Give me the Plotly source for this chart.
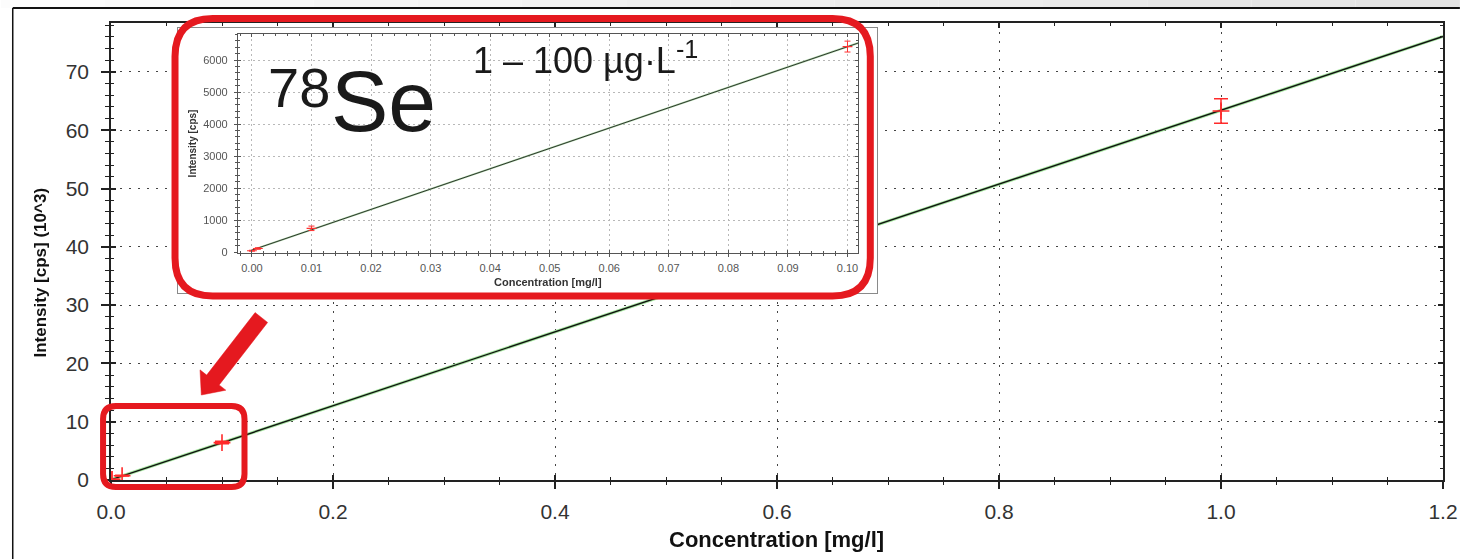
import math
import plotly.graph_objects as go

W, H = 1470, 559
PL, PR, PT, PB = 111, 1453, 23, 480          # main plot area (px)
IL, IR, IT, IB = 239, 864, 34, 253           # inset plot area (px)
FL, FR, FT, FB = 179, 883, 28, 293           # inset frame (px)

# ---------------- data ----------------
conc = [0.0, 0.001, 0.01, 0.1, 1.0]
intensity_k = [0.04, 0.11, 0.74, 6.42, 63.3]      # cps (10^3)
err_k = [0.01, 0.02, 0.06, 0.21, 2.1]
fit_conc = [0.0, 1.2]
fit_k = [0.06, 76.1]

inset_conc = [0.0, 0.001, 0.01, 0.1]
inset_cps = [40, 110, 740, 6420]
inset_err = [15, 25, 70, 170]
inset_fit_conc = [0.0, 0.1018]
inset_fit_cps = [60, 6530]

x_tickvals = [0.0, 0.2, 0.4, 0.6, 0.8, 1.0, 1.2]
x_ticktext = ["0.0", "0.2", "0.4", "0.6", "0.8", "1.0", "1.2"]
y_tickvals = [0, 10, 20, 30, 40, 50, 60, 70]
y_ticktext = ["0", "10", "20", "30", "40", "50", "60", "70"]
inset_x_tickvals = [0.0, 0.01, 0.02, 0.03, 0.04, 0.05, 0.06, 0.07, 0.08, 0.09, 0.10]
inset_x_ticktext = ["0.00", "0.01", "0.02", "0.03", "0.04", "0.05", "0.06", "0.07", "0.08", "0.09", "0.10"]
inset_y_tickvals = [0, 1000, 2000, 3000, 4000, 5000, 6000]
inset_y_ticktext = ["0", "1000", "2000", "3000", "4000", "5000", "6000"]

MAIN_X_RANGE = [0.0, 1.2]
MAIN_Y_RANGE = [0.0, 78.4]
INSET_X_RANGE = [-0.00233, 0.10183]
INSET_Y_RANGE = [-31, 6813]

FONT = "Liberation Sans, Arial, sans-serif"
RED = "#e5191f"


def px(x):
    return (x - PL) / (PR - PL)


def py(y):
    return (PB - y) / (PB - PT)


fig = go.Figure()

# ---------------- main traces ----------------
fig.add_trace(go.Scatter(x=fit_conc, y=fit_k, mode="lines",
                         line=dict(color="#a4e69e", width=3.2),
                         hoverinfo="skip", showlegend=False))
fig.add_trace(go.Scatter(x=fit_conc, y=fit_k, mode="lines",
                         line=dict(color="#111111", width=1.4),
                         hoverinfo="skip", showlegend=False))
fig.add_trace(go.Scatter(x=conc, y=intensity_k, mode="markers",
                         marker=dict(symbol="cross-thin", size=12,
                                     line=dict(color="#ff2a2a", width=1.6)),
                         error_y=dict(type="data", array=err_k, visible=True,
                                      color="#ff2a2a", thickness=1.5, width=7),
                         showlegend=False))

# inset frame subplot (x2/y2): white box with grey border
fig.add_trace(go.Scatter(x=[0.5], y=[0.5], mode="markers", opacity=0,
                         xaxis="x2", yaxis="y2", hoverinfo="skip", showlegend=False))

# inset plot (x3/y3)
fig.add_trace(go.Scatter(x=inset_fit_conc, y=inset_fit_cps, mode="lines",
                         line=dict(color="#b4dcae", width=2.0),
                         xaxis="x3", yaxis="y3", hoverinfo="skip", showlegend=False))
fig.add_trace(go.Scatter(x=inset_fit_conc, y=inset_fit_cps, mode="lines",
                         line=dict(color="#2e362e", width=1.0),
                         xaxis="x3", yaxis="y3", hoverinfo="skip", showlegend=False))
fig.add_trace(go.Scatter(x=inset_conc, y=inset_cps, mode="markers",
                         marker=dict(symbol="line-ew", size=7,
                                     line=dict(color="#ff3030", width=1.2)),
                         error_y=dict(type="data", array=inset_err, visible=True,
                                      color="#ff3030", thickness=1, width=3),
                         xaxis="x3", yaxis="y3", showlegend=False))

# invisible traces for overlay axes (inside ticks)
fig.add_trace(go.Scatter(x=fit_conc, y=fit_k, mode="markers", opacity=0,
                         xaxis="x4", yaxis="y4", hoverinfo="skip", showlegend=False))
fig.add_trace(go.Scatter(x=inset_fit_conc, y=inset_fit_cps, mode="markers", opacity=0,
                         xaxis="x5", yaxis="y5", hoverinfo="skip", showlegend=False))

AX_COL = "#222222"
main_tickfont = dict(family=FONT, size=21, color="#333333")
inset_tickfont = dict(family=FONT, size=11, color="#555555")

fig.update_layout(
    width=W, height=H, autosize=False,
    margin=dict(l=PL, r=W - PR, t=PT, b=H - PB, pad=0),
    paper_bgcolor="white", plot_bgcolor="white",
    showlegend=False,
    xaxis=dict(domain=[0, 1], range=MAIN_X_RANGE, anchor="y",
               tickmode="array", tickvals=x_tickvals, ticktext=x_ticktext,
               ticks="outside", ticklen=7, tickwidth=1.5, tickcolor=AX_COL,
               showline=True, linecolor=AX_COL, linewidth=1.5,
               showgrid=True, gridcolor="#444444", gridwidth=1.3, griddash="2px,7px",
               zeroline=False, tickfont=main_tickfont, ticklabelstandoff=5,
               minor=dict(dtick=0.05, tick0=0, ticks="outside", ticklen=3,
                          tickwidth=1.3, tickcolor=AX_COL, showgrid=False)),
    yaxis=dict(domain=[0, 1], range=MAIN_Y_RANGE, anchor="x",
               tickmode="array", tickvals=y_tickvals, ticktext=y_ticktext,
               ticks="outside", ticklen=8, tickwidth=1.5, tickcolor=AX_COL,
               showline=True, linecolor=AX_COL, linewidth=1.5,
               showgrid=True, gridcolor="#444444", gridwidth=1.3, griddash="2px,7px",
               zeroline=False, tickfont=main_tickfont, ticklabelstandoff=8,
               minor=dict(dtick=2, tick0=0, ticks="outside", ticklen=4,
                          tickwidth=1.3, tickcolor=AX_COL, showgrid=False)),
    xaxis4=dict(overlaying="x", anchor="y4", range=MAIN_X_RANGE,
                tickmode="array", tickvals=x_tickvals, showticklabels=False,
                ticks="inside", ticklen=5, tickwidth=1.5, tickcolor=AX_COL,
                showline=True, linecolor=AX_COL, linewidth=1.5, mirror="ticks",
                showgrid=False, zeroline=False,
                minor=dict(dtick=0.05, tick0=0, ticks="inside", ticklen=3,
                           tickwidth=1.3, tickcolor=AX_COL, showgrid=False)),
    yaxis4=dict(overlaying="y", anchor="x4", range=MAIN_Y_RANGE,
                tickmode="array", tickvals=y_tickvals, showticklabels=False,
                ticks="inside", ticklen=5, tickwidth=1.5, tickcolor=AX_COL,
                showline=True, linecolor=AX_COL, linewidth=1.5, mirror="ticks",
                showgrid=False, zeroline=False,
                minor=dict(dtick=2, tick0=0, ticks="inside", ticklen=3,
                           tickwidth=1.3, tickcolor=AX_COL, showgrid=False)),
    # inset frame
    xaxis2=dict(domain=[px(FL), px(FR)], range=[0, 1], anchor="y2",
                showline=True, linecolor="#8a8a8a", linewidth=1.2, mirror=True,
                showticklabels=False, ticks="", showgrid=False, zeroline=False),
    yaxis2=dict(domain=[py(FB), py(FT)], range=[0, 1], anchor="x2",
                showline=True, linecolor="#8a8a8a", linewidth=1.2, mirror=True,
                showticklabels=False, ticks="", showgrid=False, zeroline=False),
    # inset plot
    xaxis3=dict(domain=[px(IL), px(IR)], range=INSET_X_RANGE, anchor="y3",
                tickmode="array", tickvals=inset_x_tickvals, ticktext=inset_x_ticktext,
                ticks="outside", ticklen=3, tickwidth=1, tickcolor="#555555",
                showline=True, linecolor="#555555", linewidth=1.3,
                showgrid=True, gridcolor="#b8b8b8", gridwidth=1, griddash="2px,3px",
                zeroline=False, tickfont=inset_tickfont, ticklabelstandoff=2,
                minor=dict(dtick=0.002, tick0=0, ticks="outside", ticklen=2,
                           tickwidth=1, tickcolor="#555555", showgrid=False)),
    yaxis3=dict(domain=[py(IB), py(IT)], range=INSET_Y_RANGE, anchor="x3",
                tickmode="array", tickvals=inset_y_tickvals, ticktext=inset_y_ticktext,
                ticks="outside", ticklen=3, tickwidth=1, tickcolor="#555555",
                showline=True, linecolor="#555555", linewidth=1.3,
                showgrid=True, gridcolor="#b8b8b8", gridwidth=1, griddash="2px,3px",
                zeroline=False, tickfont=inset_tickfont, ticklabelstandoff=4,
                minor=dict(dtick=200, tick0=0, ticks="outside", ticklen=2,
                           tickwidth=1, tickcolor="#555555", showgrid=False)),
    xaxis5=dict(overlaying="x3", anchor="y5", range=INSET_X_RANGE,
                tickmode="array", tickvals=inset_x_tickvals, showticklabels=False,
                ticks="inside", ticklen=3, tickwidth=1, tickcolor="#555555",
                showline=True, linecolor="#555555", linewidth=1.3, mirror="ticks",
                showgrid=False, zeroline=False,
                minor=dict(dtick=0.002, tick0=0, ticks="inside", ticklen=2,
                           tickwidth=1, tickcolor="#555555", showgrid=False)),
    yaxis5=dict(overlaying="y3", anchor="x5", range=INSET_Y_RANGE,
                tickmode="array", tickvals=inset_y_tickvals, showticklabels=False,
                ticks="inside", ticklen=3, tickwidth=1, tickcolor="#555555",
                showline=True, linecolor="#555555", linewidth=1.3, mirror="ticks",
                showgrid=False, zeroline=False,
                minor=dict(dtick=200, tick0=0, ticks="inside", ticklen=2,
                           tickwidth=1, tickcolor="#555555", showgrid=False)),
)

# ---------------- decorations ----------------
shapes = []
steps = 14
for i in range(steps):
    x0 = W * i / steps
    x1 = W * (i + 1) / steps
    g = int(252 - (252 - 228) * i / (steps - 1))
    shapes.append(dict(type="rect", xref="paper", yref="paper",
                       x0=px(x0), x1=px(x1), y0=py(8), y1=py(0),
                       fillcolor=f"rgb({g},{g},{g})", line=dict(width=0), layer="above"))
shapes.append(dict(type="line", xref="paper", yref="paper",
                   x0=px(12), x1=px(W), y0=py(8), y1=py(8),
                   line=dict(color="#111", width=2), layer="above"))
shapes.append(dict(type="line", xref="paper", yref="paper",
                   x0=px(12), x1=px(12), y0=py(8), y1=py(H),
                   line=dict(color="#111", width=1.5), layer="above"))


def rounded_rect(x0, y0, x1, y1, r):
    pts = [
        f"M {px(x0 + r)},{py(y0)}",
        f"L {px(x1 - r)},{py(y0)}",
        f"Q {px(x1)},{py(y0)} {px(x1)},{py(y0 + r)}",
        f"L {px(x1)},{py(y1 - r)}",
        f"Q {px(x1)},{py(y1)} {px(x1 - r)},{py(y1)}",
        f"L {px(x0 + r)},{py(y1)}",
        f"Q {px(x0)},{py(y1)} {px(x0)},{py(y1 - r)}",
        f"L {px(x0)},{py(y0 + r)}",
        f"Q {px(x0)},{py(y0)} {px(x0 + r)},{py(y0)}",
        "Z",
    ]
    return " ".join(pts)


shapes.append(dict(type="path", xref="paper", yref="paper",
                   path=rounded_rect(175.5, 18.5, 876, 296, 38),
                   line=dict(color=RED, width=7), layer="above"))
shapes.append(dict(type="path", xref="paper", yref="paper",
                   path=rounded_rect(103, 406, 245.5, 487, 13),
                   line=dict(color=RED, width=6), layer="above"))

# arrow polygon
tail = (262.5, 317.5)
tip = (202.0, 395.0)
dx, dy = tip[0] - tail[0], tip[1] - tail[1]
ln = math.hypot(dx, dy)
ux, uy = dx / ln, dy / ln
nx, ny = -uy, ux
hw, hh, hl = 8.0, 16.5, 19.0
bx, by = tip[0] - ux * hl, tip[1] - uy * hl
poly = [
    (tail[0] + nx * hw, tail[1] + ny * hw),
    (bx + nx * hw, by + ny * hw),
    (bx + nx * hh, by + ny * hh),
    tip,
    (bx - nx * hh, by - ny * hh),
    (bx - nx * hw, by - ny * hw),
    (tail[0] - nx * hw, tail[1] - ny * hw),
]
path = "M " + " L ".join(f"{px(a)},{py(b)}" for a, b in poly) + " Z"
shapes.append(dict(type="path", xref="paper", yref="paper", path=path,
                   fillcolor=RED, line=dict(color=RED, width=0.5), layer="above"))

fig.update_layout(shapes=shapes)

# ---------------- text ----------------
ann = []
ann.append(dict(text="<b>Concentration [mg/l]</b>", xref="paper", yref="paper",
                x=px(781), y=py(539), xanchor="center", yanchor="middle",
                showarrow=False, font=dict(family=FONT, size=22, color="#111")))
ann.append(dict(text="<b>Intensity [cps] (10^3)</b>", xref="paper", yref="paper",
                x=px(39), y=py(273), xanchor="center", yanchor="middle", textangle=-90,
                showarrow=False, font=dict(family=FONT, size=17, color="#111")))
ann.append(dict(text="<b>Concentration [mg/l]</b>", xref="paper", yref="paper",
                x=px(551), y=py(282), xanchor="center", yanchor="middle",
                showarrow=False, font=dict(family=FONT, size=11, color="#333")))
ann.append(dict(text="<b>Intensity [cps]</b>", xref="paper", yref="paper",
                x=px(193), y=py(143), xanchor="center", yanchor="middle", textangle=-90,
                showarrow=False, font=dict(family=FONT, size=10, color="#333")))
ann.append(dict(text="78", xref="paper", yref="paper",
                x=px(334), y=py(88), xanchor="right", yanchor="middle",
                showarrow=False, font=dict(family=FONT, size=56, color="#1a1a1a")))
ann.append(dict(text="Se", xref="paper", yref="paper",
                x=px(331), y=py(101), xanchor="left", yanchor="middle",
                showarrow=False, font=dict(family=FONT, size=86, color="#1a1a1a")))
ann.append(dict(text="1 \u2013 100 \u00b5g\u00b7L<sup>-1</sup>", xref="paper", yref="paper",
                x=px(474), y=py(58), xanchor="left", yanchor="middle",
                showarrow=False, font=dict(family=FONT, size=36, color="#1a1a1a")))
fig.update_layout(annotations=ann)

post_js = ("document.documentElement.style.overflow='hidden';"
           "document.body.style.margin='0';document.body.style.overflow='hidden';")
fig.write_html("out.html", config={"responsive": False}, post_script=post_js)
